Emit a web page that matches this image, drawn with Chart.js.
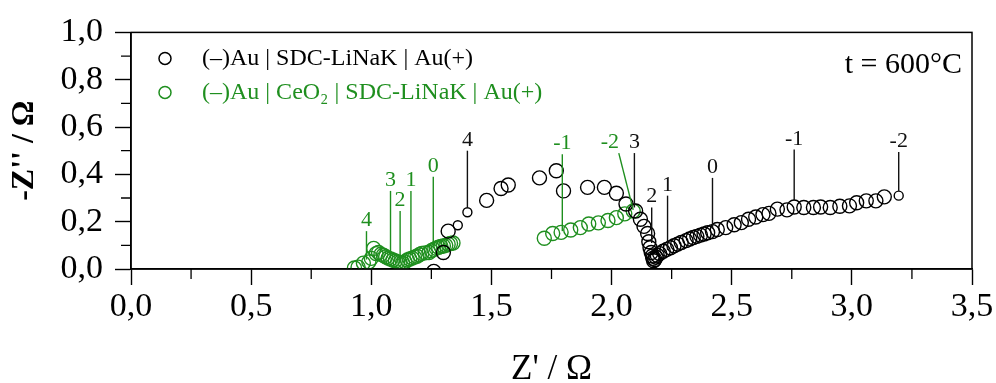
<!DOCTYPE html>
<html>
<head>
<meta charset="utf-8">
<script src="https://cdn.jsdelivr.net/npm/chart.js@4/dist/chart.umd.min.js"></script>
<style>
html, body { margin: 0; padding: 0; background: #ffffff; }
</style>
</head>
<body>
<canvas id="chart" width="996" height="383"></canvas>
<script>
// impedance spectra, t = 600 °C
const blackZre = [
	1.26, 1.30, 1.32, 1.36, 1.40, 1.48, 1.54, 1.57, 1.70, 1.77,
	1.80, 1.90, 1.97, 2.02, 2.06, 2.10, 2.12, 2.135, 2.15, 2.155,
	2.16, 2.165, 2.17, 2.172, 2.175, 2.18, 2.185, 2.19, 2.20, 2.215,
	2.23, 2.245, 2.26, 2.275, 2.29, 2.31, 2.325, 2.34, 2.355, 2.37,
	2.385, 2.40, 2.42, 2.44, 2.475, 2.51, 2.54, 2.57, 2.60, 2.63,
	2.655, 2.69, 2.73, 2.76, 2.80, 2.84, 2.87, 2.91, 2.95, 2.99,
	3.02, 3.06, 3.10, 3.135, 3.195,
];
const blackZim = [
	-0.01, 0.07, 0.16, 0.185, 0.24, 0.29, 0.34, 0.355, 0.385, 0.415,
	0.33, 0.345, 0.345, 0.32, 0.275, 0.245, 0.21, 0.18, 0.15, 0.115,
	0.09, 0.07, 0.055, 0.045, 0.035, 0.04, 0.05, 0.058, 0.065, 0.075,
	0.083, 0.09, 0.098, 0.105, 0.112, 0.12, 0.127, 0.133, 0.138, 0.143,
	0.148, 0.153, 0.158, 0.167, 0.175, 0.187, 0.196, 0.21, 0.22, 0.23,
	0.235, 0.253, 0.25, 0.262, 0.26, 0.26, 0.262, 0.26, 0.265, 0.267,
	0.28, 0.288, 0.288, 0.305, 0.31,
];
const greenZre = [
	0.93, 0.945, 0.967, 0.99, 1.0, 1.01, 1.02, 1.03, 1.04, 1.05,
	1.06, 1.07, 1.08, 1.09, 1.10, 1.11, 1.12, 1.13, 1.14, 1.15,
	1.16, 1.17, 1.18, 1.19, 1.20, 1.21, 1.225, 1.24, 1.25, 1.26,
	1.27, 1.28, 1.29, 1.30, 1.31, 1.32, 1.33, 1.34,
	1.72, 1.755, 1.79, 1.83, 1.87, 1.905, 1.945, 1.985, 2.02, 2.055,
	2.09,
];
const greenZim = [
	0.004, 0.008, 0.025, 0.03, 0.045, 0.087, 0.065, 0.07, 0.062, 0.058,
	0.052, 0.046, 0.042, 0.038, 0.034, 0.03, 0.028, 0.026, 0.03, 0.038,
	0.042, 0.046, 0.05, 0.054, 0.06, 0.066, 0.068, 0.07, 0.077, 0.083,
	0.088, 0.092, 0.095, 0.097, 0.1, 0.105, 0.108, 0.11,
	0.13, 0.15, 0.155, 0.165, 0.175, 0.19, 0.195, 0.205, 0.217, 0.233,
	0.245,
];

// log10(f / Hz) markers
const blackFreqText = ["4", "3", "2", "1", "0", "-1", "-2"];
const blackFreqZre = [1.40, 2.095, 2.167, 2.233, 2.42, 2.76, 3.195];
const blackLineTop = [0.50, 0.49, 0.26, 0.31, 0.385, 0.505, 0.495];
const blackLineEnd = [0.26, 0.26, 0.11, 0.08, 0.17, 0.29, 0.33];

const greenFreqText = ["4", "3", "2", "1", "0", "-1", "-2"];
const greenFreqZre = [0.98, 1.08, 1.12, 1.165, 1.258, 1.795, 2.09];
const greenTopZre = [0.98, 1.08, 1.12, 1.165, 1.258, 1.795, 2.03];
const greenTextZre = [0.98, 1.08, 1.12, 1.165, 1.258, 1.795, 1.993];
const greenLineTop = [0.16, 0.33, 0.245, 0.33, 0.39, 0.485, 0.49];
const greenLineEnd = [0.04, 0.045, 0.03, 0.06, 0.095, 0.16, 0.25];

const seriesLabels = ["(\u2013)Au | SDC-LiNaK | Au(+)", "(\u2013)Au | CeO\u2082 | SDC-LiNaK | Au(+)"];
const tempText = "t = 600\u00b0C";

const GREEN = "#1f8f1f";
const SERIF = "'Liberation Serif', 'DejaVu Serif', serif";

function points(xs, ys) {
	return xs.map((x, i) => ({"x": x, "y": ys[i]}));
}

function comma(value) {
	return value.toFixed(1).replace(".", ",");
}

const decorations = {
	"id": "decorations",
	afterDraw(chart) {
		const ctx = chart.ctx;
		const area = chart.chartArea;
		const xs = chart.scales.x;
		const ys = chart.scales.y;

		ctx.save();
		// frame
		ctx.strokeStyle = "#000";
		ctx.lineWidth = 1.5;
		ctx.strokeRect(area.left, area.top, area.right - area.left, area.bottom - area.top);

		// minor ticks
		ctx.lineWidth = 1.3;
		ctx.beginPath();
		for (let v = 0.25; v < 3.5; v += 0.5) {
			const px = xs.getPixelForValue(v);
			ctx.moveTo(px, area.bottom);
			ctx.lineTo(px, area.bottom + 10);
		}
		for (let v = 0.1; v < 1.0; v += 0.2) {
			const py = ys.getPixelForValue(v);
			ctx.moveTo(area.left, py);
			ctx.lineTo(area.left - 10, py);
		}
		ctx.stroke();

		// frequency markers
		function markers(texts, endX, topX, textX, top, end, color) {
			ctx.strokeStyle = color;
			ctx.fillStyle = color;
			ctx.lineWidth = 1.4;
			ctx.font = "22px " + SERIF;
			ctx.textAlign = "center";
			ctx.textBaseline = "alphabetic";
			texts.forEach(function (t, i) {
				const x0 = xs.getPixelForValue(topX[i]);
				const y0 = ys.getPixelForValue(top[i]);
				ctx.beginPath();
				ctx.moveTo(x0, y0);
				ctx.lineTo(xs.getPixelForValue(endX[i]), ys.getPixelForValue(end[i]));
				ctx.stroke();
				ctx.fillText(t, xs.getPixelForValue(textX[i]), y0 - 5);
			});
		}
		markers(blackFreqText, blackFreqZre, blackFreqZre, blackFreqZre, blackLineTop, blackLineEnd, "#111");
		markers(greenFreqText, greenFreqZre, greenTopZre, greenTextZre, greenLineTop, greenLineEnd, GREEN);

		// legend
		const colors = ["#000", GREEN];
		ctx.font = "24px " + SERIF;
		ctx.textAlign = "left";
		ctx.textBaseline = "middle";
		seriesLabels.forEach(function (label, i) {
			const y = area.top + 26 + i * 34;
			ctx.strokeStyle = colors[i];
			ctx.fillStyle = colors[i];
			ctx.lineWidth = 1.5;
			ctx.beginPath();
			ctx.arc(area.left + 34, y, 6, 0, 2 * Math.PI);
			ctx.stroke();
			ctx.fillText(label, area.left + 71, y);
		});

		// temperature
		ctx.fillStyle = "#000";
		ctx.textAlign = "right";
		ctx.font = "30px " + SERIF;
		ctx.fillText(tempText, area.right - 10, area.top + 33);
		ctx.restore();
	},
};

new Chart(document.getElementById("chart"), {
	"type": "scatter",
	"data": {
		"datasets": [
			{
				"label": seriesLabels[0],
				"data": points(blackZre, blackZim),
				"borderColor": "#000",
				"backgroundColor": "rgba(0,0,0,0)",
				"borderWidth": 1.4,
				"pointRadius": blackZre.map((v, i) => (i == 3 || i == 4 || i == blackZre.length - 1) ? 4.5 : 7),
				"clip": 0,
			},
			{
				"label": seriesLabels[1],
				"data": points(greenZre, greenZim),
				"borderColor": GREEN,
				"backgroundColor": "rgba(0,0,0,0)",
				"borderWidth": 1.4,
				"pointRadius": 7,
				"clip": 0,
			},
		],
	},
	"options": {
		"responsive": false,
		"animation": false,
		"events": [],
		"layout": {"padding": {"top": 29, "right": 24, "left": 0, "bottom": 0}},
		"plugins": {
			"legend": {"display": false},
			"tooltip": {"enabled": false},
		},
		"scales": {
			"x": {
				"type": "linear",
				"min": 0,
				"max": 3.5,
				"afterFit": (scale) => { scale.height = 114; },
				"ticks": {
					"stepSize": 0.5,
					"padding": 2,
					"color": "#000",
					"font": {"family": SERIF, "size": 34},
					"callback": (value) => comma(value),
				},
				"grid": {"drawOnChartArea": false, "tickLength": 16, "tickWidth": 1.4, "tickColor": "#000"},
				"border": {"color": "#000", "width": 1.5},
				"title": {
					"display": true,
					"text": "Z' / \u03a9",
					"color": "#000",
					"font": {"family": SERIF, "size": 35, "lineHeight": 0.75},
					"padding": {"top": 0, "bottom": 0},
				},
			},
			"y": {
				"type": "linear",
				"min": 0,
				"max": 1.0,
				"afterFit": (scale) => { scale.width = 131; },
				"ticks": {
					"stepSize": 0.2,
					"padding": 12,
					"color": "#000",
					"font": {"family": SERIF, "size": 34},
					"callback": (value) => comma(value),
				},
				"grid": {"drawOnChartArea": false, "tickLength": 16, "tickWidth": 1.4, "tickColor": "#000"},
				"border": {"color": "#000", "width": 1.5},
				"title": {
					"display": true,
					"text": "-Z'' / \u03a9",
					"color": "#000",
					"font": {"family": SERIF, "size": 32, "weight": "bold"},
					"padding": {"top": 6, "bottom": 0},
				},
			},
		},
	},
	"plugins": [decorations],
});
</script>
</body>
</html>
